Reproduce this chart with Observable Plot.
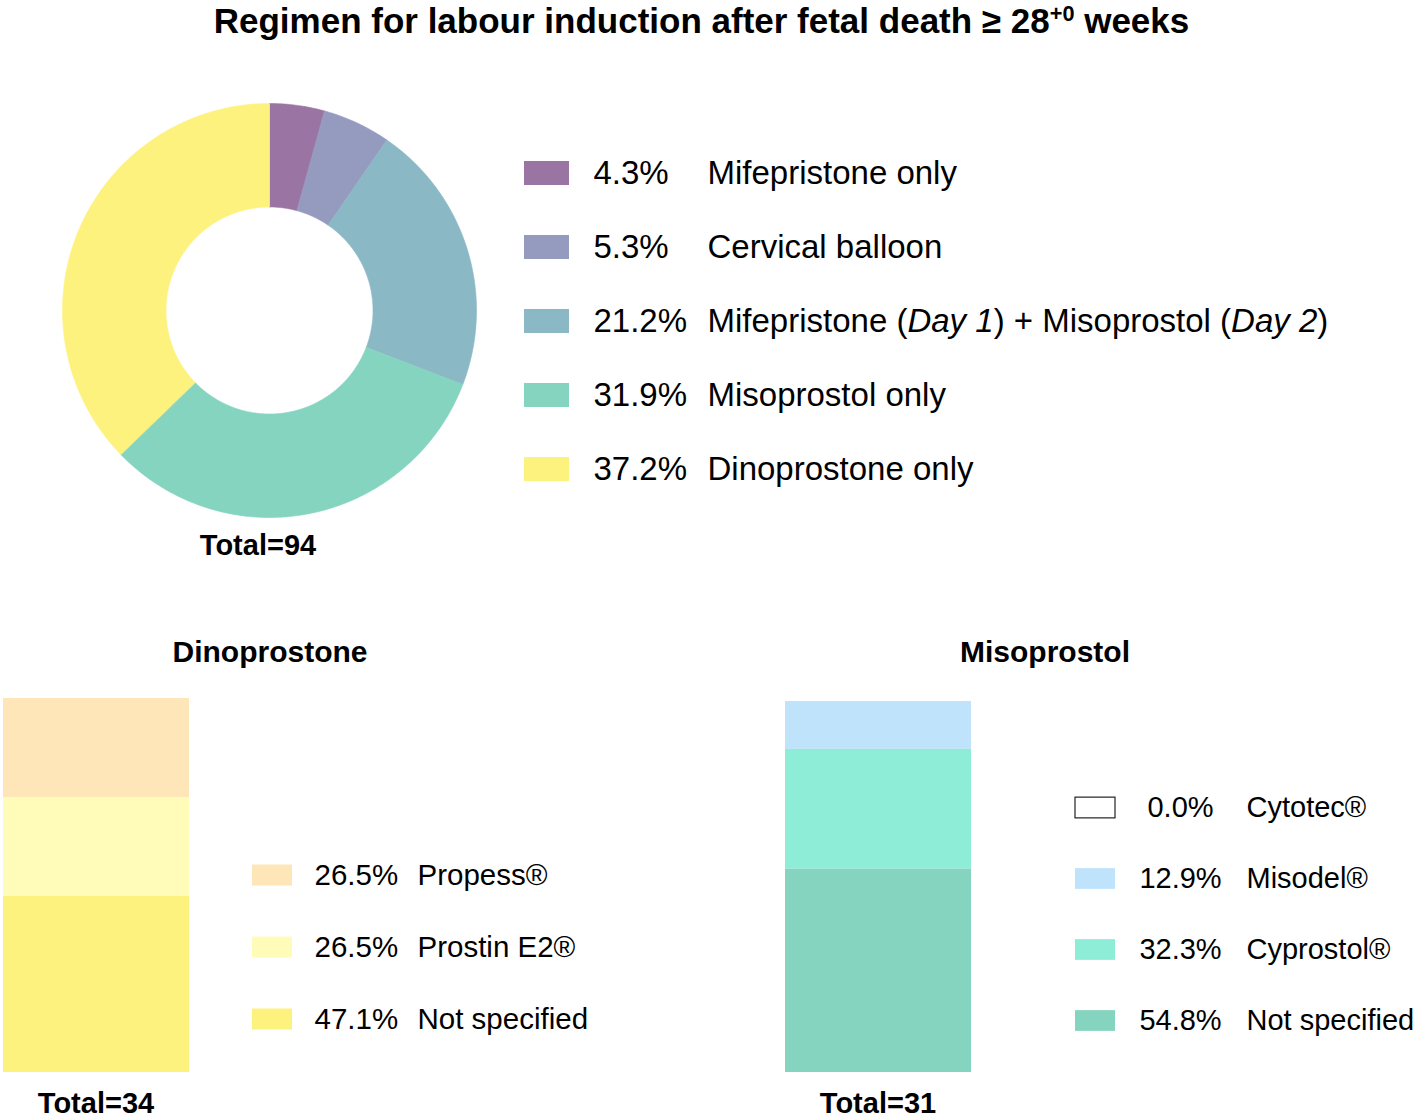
<!DOCTYPE html>
<html><head><meta charset="utf-8">
<script src="https://cdn.jsdelivr.net/npm/d3@7"></script>
<script src="https://cdn.jsdelivr.net/npm/@observablehq/plot@0.6"></script>
<style>
body{margin:0;background:#fff;}
#fig{position:relative;width:1416px;height:1119px;overflow:hidden;font-family:"Liberation Sans",Arial,sans-serif;color:#000;background:#fff;}
.abs{position:absolute;}
.lbl{position:absolute;white-space:nowrap;text-align:center;color:#000;}
sup{font-size:0.62em;vertical-align:0.55em;line-height:0;}
</style></head><body><div id="fig"></div>
<script>
// ---- data ----
const titleText = "Regimen for labour induction after fetal death ≥ 28";
const titleSup = "+0";
const titleTail = " weeks";

const regimenLabels = ["Mifepristone only", "Cervical balloon", "Mifepristone (Day 1) + Misoprostol (Day 2)", "Misoprostol only", "Dinoprostone only"];
const regimenPercents = [4.3, 5.3, 21.2, 31.9, 37.2];
const regimenColors = ["#9a75a3", "#959abf", "#8ab8c5", "#84d4bf", "#fdf27d"];
const regimenTotal = 94;

const dinoTitle = "Dinoprostone";
const dinoLabels = ["Propess®", "Prostin E2®", "Not specified"];
const dinoPercents = [26.5, 26.5, 47.1];
const dinoColors = ["#fee6b8", "#fffbb8", "#fdf27d"];
const dinoTotal = 34;

const misoTitle = "Misoprostol";
const misoLabels = ["Cytotec®", "Misodel®", "Cyprostol®", "Not specified"];
const misoPercents = [0.0, 12.9, 32.3, 54.8];
const misoColors = ["#ffffff", "#bfe3fb", "#8eedd6", "#84d4bf"];
const misoTotal = 31;

// ---- helpers ----
const fig = document.getElementById("fig");
const FONT = "'Liberation Sans', Arial, sans-serif";
function place(node, left, top) {
  const d = document.createElement("div");
  d.className = "abs";
  d.style.left = left + "px";
  d.style.top = top + "px";
  d.appendChild(node);
  fig.appendChild(d);
  return d;
}
function label(html, cx, baseline, fs, weight) {
  const d = document.createElement("div");
  d.className = "lbl";
  d.style.left = (cx - 600) + "px";
  d.style.width = "1200px";
  d.style.fontSize = fs + "px";
  d.style.lineHeight = fs + "px";
  d.style.fontWeight = weight;
  d.style.top = (baseline - 0.8465 * fs) + "px";
  d.innerHTML = html;
  fig.appendChild(d);
}
const baseStyle = {background: "transparent", overflow: "visible", fontFamily: FONT, color: "#000"};

// ---- title ----
label(titleText + "<sup>" + titleSup + "</sup>" + titleTail, 701.5, 33, 35, "bold");

// ---- donut ----
const regimenRows = regimenLabels.map((label, i) => ({label, value: regimenPercents[i]}));
const arcs = d3.pie().sort(null).value(d => d.value)(regimenRows);
const ringPoint = (a, r) => [r * Math.sin(a), -r * Math.cos(a)];
function sectorRing(a0, a1, r0, r1) {
  const n = Math.max(2, Math.ceil((a1 - a0) / 0.01));
  const outer = d3.range(n + 1).map(i => ringPoint(a0 + (a1 - a0) * i / n, r1));
  const inner = d3.range(n + 1).map(i => ringPoint(a1 - (a1 - a0) * i / n, r0));
  return [...outer, ...inner, outer[0]];
}
const sectors = arcs.map(a => ({
  type: "Feature",
  properties: {label: a.data.label},
  geometry: {type: "Polygon", coordinates: [sectorRing(a.startAngle, a.endAngle, 0.5, 1)]}
}));
const outline = {type: "Polygon", coordinates: [d3.range(361).map(i => ringPoint(i * Math.PI / 180, 1))]};
const donut = Plot.plot({
  width: 414, height: 414, margin: 0,
  projection: {type: () => d3.geoIdentity(), domain: outline, clip: false},
  color: {domain: regimenLabels, range: regimenColors},
  style: baseStyle,
  marks: [Plot.geo(sectors, {fill: d => d.properties.label, stroke: d => d.properties.label, strokeWidth: 0.6})]
});
place(donut, 62, 103);
label("Total=" + regimenTotal, 258, 556, 29, "bold");

// ---- legends ----
function legendPlot({labels, percents, colors, width, height, swatchW, swatchH, pctX, pctAnchor, labelX, fontSize}) {
  const rows = labels.map((label, i) => ({label, value: percents[i], pct: percents[i].toFixed(1) + "%"}));
  const step = height / labels.length;
  const inset = (step - swatchH) / 2;
  return Plot.plot({
    width, height, margin: 0,
    x: {domain: [0, 1], range: [0, swatchW], axis: null},
    y: {type: "band", domain: labels, padding: 0, axis: null},
    color: {domain: labels, range: colors},
    style: baseStyle,
    marks: [
      Plot.barX(rows, {x1: 0, x2: 1, y: "label", fill: "label", insetTop: inset, insetBottom: inset}),
      Plot.barX(rows.filter(d => d.value === 0), {x1: 0, x2: 1, y: "label", fill: "white", stroke: "#222", strokeWidth: 1.2, insetTop: inset, insetBottom: inset}),
      Plot.text(rows, {y: "label", text: "pct", frameAnchor: "left", dx: pctX, textAnchor: pctAnchor, fontSize, fill: "#000"}),
      Plot.text(rows, {y: "label", text: "label", frameAnchor: "left", dx: labelX, textAnchor: "start", fontSize, fill: "#000"})
    ]
  });
}
function italicizeDays(svg) {
  svg.querySelectorAll("text").forEach(t => {
    const s = t.textContent;
    if (!/Day \d/.test(s)) return;
    while (t.firstChild) t.removeChild(t.firstChild);
    s.split(/(Day \d)/).forEach(part => {
      if (!part) return;
      const ts = document.createElementNS("http://www.w3.org/2000/svg", "tspan");
      ts.textContent = part;
      if (/^Day \d$/.test(part)) ts.setAttribute("font-style", "italic");
      t.appendChild(ts);
    });
  });
}
const regLegend = legendPlot({labels: regimenLabels, percents: regimenPercents, colors: regimenColors,
  width: 892, height: 370, swatchW: 45, swatchH: 24, pctX: 69, pctAnchor: "start", labelX: 183, fontSize: 33});
italicizeDays(regLegend);
place(regLegend, 524, 136);

// ---- stacked bars ----
function stackedBar({labels, percents, colors, width, height}) {
  const rows = labels.map((label, i) => ({group: "all", label, value: percents[i]}));
  return Plot.plot({
    width, height, margin: 0,
    x: {type: "band", domain: ["all"], padding: 0, axis: null},
    y: {domain: [0, d3.sum(percents)], axis: null},
    color: {domain: labels, range: colors},
    style: baseStyle,
    marks: [Plot.barY(rows, {x: "group", y: "value", fill: "label", order: labels.slice().reverse()})]
  });
}
label(dinoTitle, 270, 662, 30, "bold");
place(stackedBar({labels: dinoLabels, percents: dinoPercents, colors: dinoColors, width: 186, height: 374}), 3, 698);
label("Total=" + dinoTotal, 96, 1114, 29, "bold");
place(legendPlot({labels: dinoLabels, percents: dinoPercents, colors: dinoColors,
  width: 400, height: 216, swatchW: 40, swatchH: 21, pctX: 62, pctAnchor: "start", labelX: 165, fontSize: 29.5}), 252, 839);

label(misoTitle, 1045, 662, 30, "bold");
place(stackedBar({labels: misoLabels, percents: misoPercents, colors: misoColors, width: 186, height: 371}), 785, 701);
label("Total=" + misoTotal, 878, 1114, 29, "bold");
place(legendPlot({labels: misoLabels, percents: misoPercents, colors: misoColors,
  width: 341, height: 285, swatchW: 40, swatchH: 21, pctX: 105, pctAnchor: "middle", labelX: 171, fontSize: 29}), 1075, 770.5);
</script></body></html>
